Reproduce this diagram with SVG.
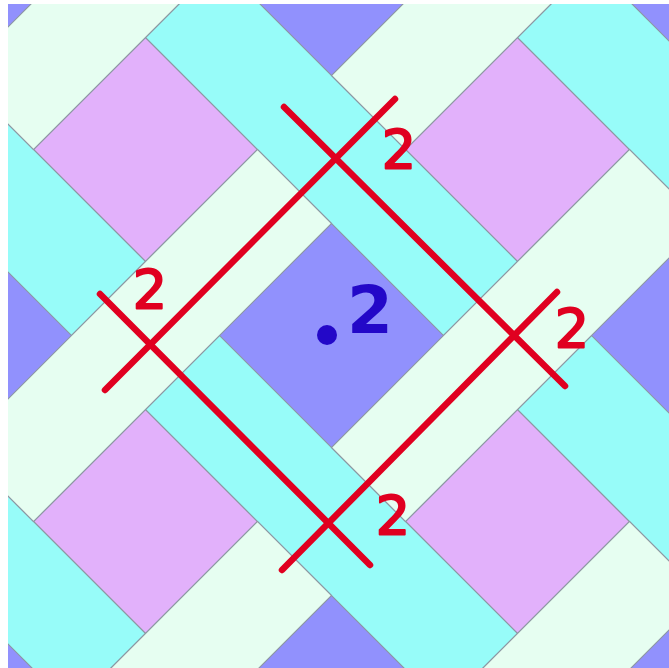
<svg xmlns="http://www.w3.org/2000/svg" width="669" height="668" viewBox="0 0 669 668">
  <style>
    .pink { fill: #E2B1FB; }
    .cyan { fill: #97FCF9; }
    .mint { fill: #E6FEF1; }
    .tile { stroke: #8d97a2; stroke-width: 1.6; vector-effect: non-scaling-stroke; }
    .red { stroke: #E00020; stroke-width: 6.5; stroke-linecap: round; fill: none; }
    .lbl { font-family: "DejaVu Sans", sans-serif; font-size: 54px; fill: #E00020; stroke: #E00020; stroke-width: 2; stroke-linejoin: round; text-anchor: middle; }
    .blue { font-family: "DejaVu Sans", sans-serif; font-size: 66px; font-weight: bold; fill: #2308C8; text-anchor: middle; }
  </style>
  <defs>
    <clipPath id="frame"><rect x="8" y="4" width="661" height="664"/></clipPath>
  </defs>
  <rect width="669" height="668" fill="#ffffff"/>
  <g id="tiling" clip-path="url(#frame)">
    <rect x="8" y="4" width="661" height="664" fill="#9191FD"/>
    <g transform="matrix(0.5 0.5 0.5 -0.5 0 0)">
      <g id="pink-cells" class="pink tile">
        <rect x="-189" y="-488" width="224" height="224"/>
        <rect x="-189" y="256" width="224" height="224"/>
        <rect x="183" y="-860" width="224" height="224"/>
        <rect x="183" y="-116" width="224" height="224"/>
        <rect x="183" y="628" width="224" height="224"/>
        <rect x="555" y="-488" width="224" height="224"/>
        <rect x="555" y="256" width="224" height="224"/>
        <rect x="927" y="-860" width="224" height="224"/>
        <rect x="927" y="-116" width="224" height="224"/>
        <rect x="927" y="628" width="224" height="224"/>
        <rect x="1299" y="-488" width="224" height="224"/>
        <rect x="1299" y="256" width="224" height="224"/>
      </g>
      <g id="cyan-strips" class="cyan tile">
        <rect x="-561" y="-636" width="596" height="148"/>
        <rect x="-561" y="108" width="596" height="148"/>
        <rect x="-189" y="-264" width="596" height="148"/>
        <rect x="-189" y="480" width="596" height="148"/>
        <rect x="183" y="-636" width="596" height="148"/>
        <rect x="183" y="108" width="596" height="148"/>
        <rect x="555" y="-264" width="596" height="148"/>
        <rect x="555" y="480" width="596" height="148"/>
        <rect x="927" y="-636" width="596" height="148"/>
        <rect x="927" y="108" width="596" height="148"/>
        <rect x="1299" y="-264" width="596" height="148"/>
        <rect x="1299" y="480" width="596" height="148"/>
      </g>
      <g id="mint-strips" class="mint tile">
        <rect x="35" y="-860" width="148" height="596"/>
        <rect x="35" y="-116" width="148" height="596"/>
        <rect x="35" y="628" width="148" height="596"/>
        <rect x="407" y="-1232" width="148" height="596"/>
        <rect x="407" y="-488" width="148" height="596"/>
        <rect x="407" y="256" width="148" height="596"/>
        <rect x="779" y="-860" width="148" height="596"/>
        <rect x="779" y="-116" width="148" height="596"/>
        <rect x="779" y="628" width="148" height="596"/>
        <rect x="1151" y="-1232" width="148" height="596"/>
        <rect x="1151" y="-488" width="148" height="596"/>
        <rect x="1151" y="256" width="148" height="596"/>
      </g>
    </g>
  </g>
  <g id="red-lines" class="red">
    <line x1="395" y1="99" x2="105" y2="390"/>
    <line x1="284" y1="107" x2="565" y2="386"/>
    <line x1="100" y1="294" x2="370" y2="565"/>
    <line x1="557" y1="292" x2="282" y2="570"/>
  </g>
  <g id="labels">
    <text class="lbl" x="399" y="168">2</text>
    <text class="lbl" x="150" y="308">2</text>
    <text class="lbl" x="572" y="347">2</text>
    <text class="lbl" x="393" y="534">2</text>
  </g>
  <g id="center-label">
    <circle cx="327" cy="335" r="10" fill="#2308C8"/>
    <text class="blue" x="370" y="333">2</text>
  </g>
</svg>
